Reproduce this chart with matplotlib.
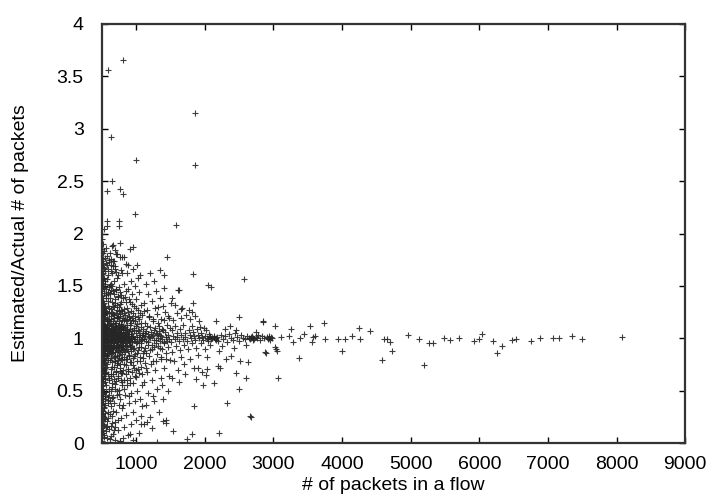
import matplotlib
matplotlib.use("Agg")
import matplotlib.pyplot as plt

# (# of packets, estimated/actual)
small_flows = [
    (502, 0.02), (508, 0.05), (515, 0.10), (503, 0.14), (520, 0.18), (511, 0.22), (530, 0.25), (505, 0.28),
    (518, 0.31), (540, 0.34), (507, 0.37), (525, 0.40), (512, 0.43), (548, 0.45), (503, 0.47), (535, 0.49),
    (516, 0.52), (509, 0.54), (560, 0.55), (522, 0.57), (504, 0.59), (541, 0.61), (513, 0.62), (529, 0.64),
    (506, 0.66), (552, 0.67), (518, 0.69), (537, 0.70), (503, 0.72), (566, 0.73), (511, 0.74), (526, 0.76),
    (545, 0.77), (507, 0.78), (519, 0.80), (534, 0.81), (502, 0.82), (575, 0.83), (514, 0.84), (528, 0.85),
    (549, 0.86), (505, 0.87), (521, 0.88), (538, 0.89), (510, 0.90), (557, 0.91), (503, 0.92), (531, 0.93),
    (516, 0.94), (544, 0.95), (508, 0.96), (523, 0.97), (582, 0.97), (501, 0.98), (536, 0.99), (514, 1.00),
    (553, 1.00), (506, 1.01), (527, 1.02), (569, 1.02), (511, 1.03), (540, 1.04), (503, 1.05), (519, 1.06),
    (558, 1.07), (532, 1.08), (507, 1.09), (546, 1.10), (515, 1.11), (502, 1.12), (573, 1.13), (524, 1.14),
    (509, 1.15), (538, 1.16), (517, 1.18), (504, 1.19), (551, 1.20), (529, 1.22), (512, 1.23), (563, 1.25),
    (506, 1.26), (521, 1.28), (542, 1.30), (503, 1.32), (533, 1.34), (514, 1.36), (555, 1.38), (508, 1.40),
    (526, 1.43), (502, 1.45), (539, 1.48), (517, 1.50), (506, 1.53), (548, 1.55), (523, 1.58), (511, 1.61),
    (503, 1.64), (532, 1.67), (515, 1.71), (507, 1.74), (544, 1.77), (520, 1.81), (504, 1.85), (512, 1.90),
    (508, 1.95), (502, 2.00), (530, 0.08), (555, 0.15), (570, 0.21), (585, 0.30), (598, 0.38), (590, 0.44),
    (604, 0.52), (612, 0.60), (596, 0.66), (588, 0.79), (608, 0.88), (593, 0.94), (615, 1.04), (601, 1.09),
    (589, 1.17), (610, 1.24), (597, 1.31), (584, 1.42), (606, 1.49), (592, 1.60), (578, 1.70), (560, 1.86),
]

mid_flows = [
    (625, 0.04), (660, 0.09), (700, 0.03), (640, 0.16), (690, 0.20), (735, 0.12), (760, 0.02), (650, 0.26),
    (710, 0.30), (780, 0.24), (630, 0.35), (675, 0.38), (745, 0.36), (795, 0.33), (655, 0.43), (720, 0.46),
    (770, 0.42), (635, 0.50), (690, 0.52), (755, 0.51), (790, 0.55), (645, 0.57), (705, 0.59), (730, 0.62),
    (775, 0.60), (628, 0.64), (668, 0.66), (715, 0.68), (760, 0.69), (798, 0.67), (640, 0.71), (685, 0.73),
    (725, 0.74), (768, 0.75), (652, 0.77), (700, 0.78), (742, 0.79), (785, 0.80), (633, 0.81), (678, 0.82),
    (720, 0.83), (758, 0.84), (795, 0.85), (646, 0.86), (690, 0.87), (735, 0.88), (775, 0.89), (627, 0.90),
    (662, 0.91), (708, 0.92), (750, 0.93), (788, 0.93), (640, 0.94), (682, 0.95), (725, 0.96), (765, 0.96),
    (655, 0.97), (698, 0.98), (740, 0.98), (780, 0.99), (630, 0.99), (672, 1.00), (715, 1.00), (755, 1.01),
    (795, 1.01), (645, 1.02), (688, 1.02), (730, 1.03), (770, 1.03), (660, 1.04), (705, 1.05), (748, 1.05),
    (785, 1.06), (635, 1.07), (678, 1.07), (722, 1.08), (762, 1.09), (650, 1.10), (695, 1.11), (738, 1.12),
    (778, 1.12), (628, 1.13), (668, 1.14), (712, 1.15), (752, 1.16), (792, 1.17), (642, 1.18), (685, 1.19),
    (728, 1.20), (768, 1.21), (658, 1.23), (702, 1.24), (745, 1.26), (785, 1.27), (632, 1.28), (675, 1.30),
    (718, 1.32), (760, 1.33), (648, 1.35), (692, 1.37), (735, 1.39), (775, 1.41), (625, 1.43), (665, 1.45),
    (708, 1.47), (750, 1.49), (640, 1.52), (685, 1.55), (728, 1.58), (655, 1.62), (700, 1.66), (632, 1.70),
    (680, 1.74), (720, 1.80), (790, 1.78), (650, 1.88), (760, 1.91), (698, 0.15), (740, 0.22),
]

dense_core = [
    (504, 0.99), (517, 1.07), (523, 0.93), (531, 1.12), (546, 0.88), (551, 1.03), (562, 0.96), (574, 1.18),
    (579, 0.84), (587, 1.01), (593, 1.09), (605, 0.91), (611, 1.14), (619, 0.97), (626, 1.05), (634, 0.86),
    (641, 1.21), (649, 0.99), (657, 1.08), (663, 0.92), (671, 1.16), (679, 0.95), (684, 1.03), (693, 0.83),
    (699, 1.12), (707, 0.98), (713, 1.06), (721, 0.89), (729, 1.19), (736, 1.01), (744, 0.94), (751, 1.10),
    (759, 0.87), (766, 1.04), (773, 0.97), (781, 1.14), (789, 0.91), (796, 1.02), (804, 1.08), (812, 0.95),
    (819, 1.17), (827, 0.89), (834, 1.01), (842, 1.11), (851, 0.93), (858, 1.05), (866, 0.98), (874, 1.13),
    (881, 0.88), (889, 1.02), (897, 0.96), (906, 1.09), (913, 0.92), (922, 1.04), (931, 1.15), (939, 0.97),
    (948, 1.01), (956, 0.90), (965, 1.08), (974, 0.99), (507, 0.64), (513, 1.33), (528, 0.71), (536, 1.27),
    (543, 0.58), (557, 1.41), (566, 0.68), (572, 1.24), (581, 0.75), (595, 1.36), (602, 0.62), (608, 1.29),
    (616, 0.79), (623, 1.38), (637, 0.66), (644, 1.25), (652, 0.73), (666, 1.31), (674, 0.61), (682, 1.22),
    (688, 0.78), (696, 1.34), (703, 0.69), (717, 1.27), (724, 0.76), (732, 1.20), (739, 0.64), (747, 1.30),
    (754, 0.81), (762, 1.23), (770, 0.72), (777, 1.35), (785, 0.67), (792, 1.26), (801, 0.79), (808, 1.19),
    (816, 0.70), (823, 1.28), (831, 0.82), (845, 1.22), (853, 0.74), (861, 1.18), (869, 0.80), (877, 1.25),
    (885, 0.69), (893, 1.21), (902, 0.83), (917, 1.17), (926, 0.77), (943, 1.19), (501, 0.95), (501, 1.08),
    (502, 0.76), (502, 1.21), (503, 0.88), (504, 1.14), (505, 0.69), (505, 1.31), (506, 0.97), (507, 1.04),
    (509, 0.83), (510, 1.17), (512, 0.61), (513, 1.25), (514, 0.92), (516, 1.11), (518, 0.74), (519, 1.38),
    (521, 0.99), (522, 1.02), (525, 0.86), (527, 1.19), (529, 0.67), (532, 1.29), (534, 0.94), (537, 1.07),
    (539, 0.79), (542, 1.23), (544, 1.00), (547, 0.91), (550, 1.13), (553, 0.72), (556, 1.26), (559, 0.97),
    (563, 1.05), (567, 0.81), (571, 1.16), (576, 0.89), (580, 1.09), (585, 0.93), (590, 1.03), (596, 0.85),
    (600, 1.18), (607, 0.96), (613, 1.07), (618, 0.88), (624, 1.15), (631, 0.94), (638, 1.02), (646, 0.99),
    (654, 1.04), (661, 0.95), (669, 1.01), (676, 0.97), (686, 1.00), (694, 1.03), (702, 0.96), (711, 1.01),
    (719, 0.98), (727, 1.03), (735, 0.97), (743, 1.00), (752, 1.02), (761, 0.98), (769, 1.01), (778, 0.99),
    (787, 1.02), (798, 0.97), (807, 1.00), (818, 1.03), (503, 0.31), (506, 0.45), (509, 0.52), (512, 0.38),
    (514, 1.55), (517, 1.62), (521, 0.48), (524, 1.49), (527, 0.33), (533, 1.58), (541, 0.42), (547, 1.52),
    (554, 0.36), (561, 1.47), (568, 0.49), (577, 1.57), (586, 0.41), (594, 1.44), (603, 0.46), (614, 1.51),
    (622, 0.40), (633, 1.46), (643, 0.53), (653, 1.50), (667, 0.44), (681, 1.42), (695, 0.56), (709, 1.46),
    (726, 0.50), (741, 1.40), (757, 0.47), (772, 1.44), (788, 0.58), (806, 1.38), (824, 0.52), (847, 1.35),
    (868, 0.60), (892, 1.37), (915, 0.57), (938, 1.33), (951, 0.74), (962, 1.24), (977, 0.83), (988, 1.16),
    (997, 0.70), (1006, 1.12), (1018, 0.86), (1027, 1.20), (1039, 0.92), (1048, 1.07), (1058, 0.78),
    (1067, 1.15), (1078, 0.95), (1086, 1.03), (1097, 0.81), (1108, 1.09), (1119, 0.99), (1128, 0.91),
    (1137, 1.05), (1149, 0.86), (1161, 1.12), (1173, 0.96), (1186, 1.01), (1197, 0.89), (1213, 1.06),
    (1227, 0.94), (1242, 1.03), (1258, 0.92), (1272, 1.10), (1287, 0.98), (1302, 1.04), (1318, 0.93),
    (1334, 1.07), (1349, 0.97), (1366, 1.02), (1381, 0.90), (1397, 1.08), (1413, 0.95), (1429, 1.01),
    (1446, 0.97),
]

extra_core = [
    (508, 1.01), (515, 0.96), (520, 1.04), (526, 0.91), (533, 1.09), (538, 0.98), (545, 1.06), (550, 0.86),
    (558, 1.11), (565, 0.99), (570, 0.93), (578, 1.05), (583, 1.13), (591, 0.97), (598, 1.02), (603, 0.89),
    (609, 1.10), (617, 1.00), (622, 0.94), (629, 1.08), (636, 0.98), (642, 1.12), (648, 0.90), (655, 1.06),
    (659, 1.00), (665, 0.87), (672, 1.09), (677, 1.02), (683, 0.93), (690, 1.15), (697, 1.00), (704, 0.91),
    (710, 1.10), (716, 1.02), (723, 0.94), (731, 1.07), (738, 0.99), (746, 1.13), (753, 0.92), (760, 1.05),
    (767, 0.99), (775, 1.08), (782, 0.93), (790, 1.11), (797, 1.00), (805, 0.90), (813, 1.06), (821, 0.98),
    (829, 1.10), (838, 0.94), (846, 1.03), (855, 0.99), (863, 1.08), (872, 0.95), (880, 1.04), (890, 0.99),
    (899, 1.07), (909, 0.97), (919, 1.02), (929, 0.93), (510, 0.21), (516, 0.12), (522, 0.26), (531, 0.17),
    (537, 0.06), (545, 0.23), (552, 0.29), (563, 0.11), (575, 0.16), (583, 0.05), (594, 0.24), (607, 0.13),
    (618, 0.28), (632, 0.07), (646, 0.19), (663, 0.31), (680, 0.12), (515, 1.68), (525, 1.76), (535, 1.83),
    (546, 1.64), (558, 1.72), (571, 1.79), (586, 1.66), (602, 1.73), (619, 1.81), (640, 1.76), (665, 1.69),
    (690, 1.84), (712, 1.63), (980, 0.64), (1005, 1.29), (1033, 0.71), (1062, 1.24), (1091, 0.66),
    (1118, 1.26), (1152, 0.72), (1183, 1.20), (1215, 0.75), (1252, 1.18), (1288, 0.78), (1325, 1.15),
    (1362, 0.82), (1402, 1.17), (1441, 0.80), (1470, 1.21), (1015, 0.96), (1044, 1.01), (1073, 0.98),
    (1102, 1.03),
]

large_flows = [
    (810, 0.05), (880, 0.08), (960, 0.03), (1040, 0.10), (830, 0.15), (920, 0.18), (1000, 0.22), (860, 0.27),
    (950, 0.30), (1070, 0.26), (815, 0.36), (895, 0.38), (985, 0.40), (1060, 0.42), (840, 0.46), (930, 0.48),
    (1020, 0.50), (870, 0.55), (960, 0.57), (1090, 0.55), (820, 0.60), (905, 0.62), (1000, 0.63), (850, 0.66),
    (940, 0.68), (1045, 0.67), (885, 0.71), (975, 0.72), (1075, 0.73), (825, 0.75), (915, 0.77), (1010, 0.78),
    (860, 0.80), (950, 0.81), (1055, 0.82), (895, 0.84), (990, 0.85), (1095, 0.86), (835, 0.87), (930, 0.88),
    (1030, 0.89), (870, 0.90), (965, 0.91), (1070, 0.92), (810, 0.93), (905, 0.94), (1000, 0.95), (845, 0.96),
    (945, 0.96), (1050, 0.97), (880, 0.98), (980, 0.99), (1085, 0.99), (825, 1.00), (920, 1.00), (1020, 1.01),
    (860, 1.02), (955, 1.02), (1060, 1.03), (895, 1.04), (995, 1.05), (1095, 1.05), (840, 1.06), (935, 1.07),
    (1035, 1.08), (875, 1.09), (970, 1.10), (1075, 1.11), (815, 1.12), (910, 1.13), (1010, 1.14), (855, 1.16),
    (950, 1.17), (1050, 1.18), (890, 1.20), (990, 1.21), (1090, 1.22), (830, 1.24), (925, 1.26), (1025, 1.27),
    (865, 1.29), (965, 1.31), (1065, 1.32), (905, 1.35), (1000, 1.37), (845, 1.39), (945, 1.42), (1045, 1.44),
    (880, 1.47), (985, 1.50), (820, 1.52), (925, 1.55), (1030, 1.58), (870, 1.62), (960, 1.66), (1015, 1.70),
    (850, 1.45), (900, 0.45), (1080, 0.35),
    (1120, 0.18), (1210, 0.25), (1330, 0.30), (1440, 0.22), (1150, 0.36), (1260, 0.40), (1390, 0.42),
    (1180, 0.48), (1300, 0.52), (1460, 0.50), (1110, 0.58), (1230, 0.60), (1360, 0.62), (1480, 0.64),
    (1165, 0.68), (1280, 0.70), (1410, 0.72), (1135, 0.76), (1245, 0.78), (1370, 0.80), (1490, 0.79),
    (1190, 0.83), (1310, 0.85), (1430, 0.86), (1115, 0.88), (1225, 0.90), (1345, 0.91), (1465, 0.92),
    (1170, 0.94), (1285, 0.95), (1400, 0.96), (1140, 0.97), (1255, 0.98), (1375, 0.99), (1485, 0.99),
    (1200, 1.00), (1320, 1.00), (1440, 1.01), (1125, 1.02), (1235, 1.02), (1355, 1.03), (1470, 1.03),
    (1180, 1.04), (1295, 1.05), (1415, 1.06), (1150, 1.07), (1265, 1.08), (1385, 1.09), (1495, 1.10),
    (1210, 1.11), (1330, 1.12), (1450, 1.13), (1130, 1.15), (1245, 1.16), (1365, 1.18), (1475, 1.19),
    (1190, 1.21), (1305, 1.23), (1425, 1.25), (1160, 1.27), (1275, 1.29), (1395, 1.31), (1115, 1.34),
    (1225, 1.36), (1350, 1.38), (1175, 1.42), (1290, 1.45), (1410, 1.48), (1140, 1.52), (1260, 1.55),
    (1200, 1.62), (1320, 1.30), (1240, 0.45), (1380, 0.55),
]

big_flows = [
    (1520, 0.62), (1610, 0.70), (1720, 0.66), (1850, 0.72), (1960, 0.68), (1550, 0.78), (1660, 0.82),
    (1780, 0.80), (1900, 0.84), (2040, 0.82), (1530, 0.87), (1640, 0.89), (1760, 0.90), (1880, 0.91),
    (2000, 0.90), (1580, 0.93), (1700, 0.94), (1820, 0.95), (1940, 0.95), (2070, 0.94), (1510, 0.96),
    (1620, 0.97), (1740, 0.97), (1860, 0.98), (1980, 0.98), (1560, 0.99), (1680, 0.99), (1800, 1.00),
    (1920, 1.00), (2030, 1.00), (1600, 1.01), (1720, 1.01), (1840, 1.02), (1960, 1.01), (2080, 1.01),
    (1540, 1.02), (1660, 1.03), (1780, 1.03), (1900, 1.03), (2010, 1.02), (1590, 1.05), (1710, 1.05),
    (1830, 1.06), (1950, 1.05), (2060, 1.04), (1525, 1.08), (1645, 1.09), (1765, 1.08), (1885, 1.09),
    (2020, 1.08), (1570, 1.12), (1690, 1.13), (1810, 1.12), (1930, 1.11), (1540, 1.17), (1660, 1.19),
    (1790, 1.18), (1910, 1.16), (1600, 1.24), (1730, 1.22), (1860, 1.21), (1650, 1.28), (1770, 1.27),
    (1560, 1.32), (1700, 0.75), (1620, 0.58), (1520, 1.38), (1990, 1.10), (2050, 0.97), (2090, 0.99),
    (2100, 1.00), (2045, 0.99), (2075, 1.02),
    (2110, 1.00), (2130, 1.01), (2150, 0.99), (2170, 1.00), (2140, 1.02), (2160, 0.98), (2185, 1.01),
    (2200, 0.97), (2230, 1.03), (2260, 0.99), (2290, 1.02), (2320, 0.96), (2350, 1.04), (2380, 1.00),
    (2410, 0.98), (2440, 1.05), (2470, 1.01), (2500, 0.97), (2530, 1.03), (2560, 1.00), (2590, 0.99),
    (2620, 1.02), (2640, 1.00), (2660, 0.99), (2680, 1.01), (2700, 1.00), (2720, 0.99), (2740, 1.01),
    (2760, 1.00), (2690, 1.02), (2710, 0.98), (2670, 1.00), (2780, 1.03), (2810, 0.98), (2840, 1.02),
    (2870, 1.00), (2900, 1.01), (2920, 0.99), (2940, 1.00), (2960, 1.01), (2980, 1.00), (2930, 1.02),
    (2950, 0.98), (2250, 0.93), (2420, 0.91), (2600, 0.94), (2290, 1.09), (2460, 1.08), (2750, 1.06),
    (2210, 0.88), (2370, 1.12),
]

outliers = [
    (596, 3.56), (815, 3.655), (1865, 3.155), (631, 2.92), (995, 2.70), (1860, 2.657), (650, 2.50),
    (577, 2.405), (771, 2.424), (805, 2.376), (980, 2.19), (1585, 2.083), (577, 2.12), (756, 2.12),
    (747, 2.07), (577, 2.07), (530, 2.04), (660, 1.895), (906, 1.85), (960, 1.875), (1455, 1.777),
    (712, 1.80), (771, 1.78), (820, 1.78), (612, 1.75), (664, 1.735), (689, 1.69), (858, 1.705),
    (883, 1.70), (1347, 1.655), (1400, 1.60), (1836, 1.61), (637, 1.64), (785, 1.655), (800, 1.625),
    (1052, 1.60), (737, 1.60), (2577, 1.566), (1630, 1.46), (1612, 1.46), (2050, 1.51), (2090, 1.49),
    (1512, 1.34), (1662, 1.29), (1830, 1.34), (1808, 1.25), (2500, 1.205), (2161, 1.167), (2842, 1.16),
    (2890, 0.86), (2520, 0.78), (2630, 0.77), (2378, 0.83), (2306, 0.80), (2190, 0.737), (2220, 0.72),
    (2462, 0.667), (2597, 0.625), (2136, 0.57), (1976, 0.55), (2016, 0.65), (1880, 0.615), (1904, 0.715),
    (2035, 0.705), (2500, 0.517), (2330, 0.38), (2665, 0.255), (1846, 0.354), (1540, 0.115), (1816, 0.083),
    (1735, 0.035), (2208, 0.096), (1298, 0.012), (1395, 0.21), (1429, 0.19), (1227, 0.147), (1153, 0.204),
    (1066, 0.18), (766, 0.02), (911, 0.083),
]

tail = [
    (2845, 1.158), (3017, 1.12), (3254, 1.085), (3536, 1.117), (3744, 1.148), (3449, 1.04), (3381, 1.00),
    (3284, 0.966), (3221, 1.017), (3116, 1.014), (3575, 1.01), (3600, 1.024), (3565, 0.966), (3750, 0.99),
    (3937, 0.99), (4045, 0.99), (4006, 0.88), (4142, 1.02), (4249, 1.10), (4258, 0.99), (4408, 1.07),
    (4582, 0.79), (4606, 0.99), (4655, 0.99), (4703, 0.966), (4733, 0.88), (4960, 1.03), (5120, 0.99),
    (5193, 0.744), (5274, 0.95), (5329, 0.957), (5488, 1.00), (5575, 0.98), (5710, 1.007), (5924, 0.973),
    (5997, 0.99), (6045, 1.04), (6205, 0.976), (6253, 0.858), (6330, 0.928), (6471, 0.983), (6538, 0.99),
    (6747, 0.97), (6887, 1.007), (7071, 1.007), (7159, 1.007), (7352, 1.017), (7493, 0.99), (8077, 1.01),
    (2882, 0.87), (3042, 0.897), (3051, 0.874), (3017, 0.912), (3072, 0.625), (3371, 0.81), (2680, 0.252),
]

x_ticks = [1000, 2000, 3000, 4000, 5000, 6000, 7000, 8000, 9000]
y_ticks = [0, 0.5, 1, 1.5, 2, 2.5, 3, 3.5, 4]
y_tick_labels = ["0", "0.5", "1", "1.5", "2", "2.5", "3", "3.5", "4"]

plt.rcParams["font.family"] = ["Liberation Sans", "DejaVu Sans"]
plt.rcParams["font.size"] = 14

fig = plt.figure(figsize=(7.2, 5.04), dpi=100)
ax = fig.add_axes([0.1413, 0.121, 0.8105, 0.8314])

points = small_flows + mid_flows + dense_core + extra_core + large_flows + big_flows + outliers + tail
xs = [p[0] for p in points]
ys = [p[1] for p in points]
ax.plot(xs, ys, linestyle="none", marker="+", markersize=5, markeredgewidth=0.8,
        color="#262626", alpha=0.9)

ax.set_xlim(500, 9000)
ax.set_ylim(0, 4)
ax.set_xticks(x_ticks)
ax.set_xticklabels([str(t) for t in x_ticks])
ax.set_yticks(y_ticks)
ax.set_yticklabels(y_tick_labels)
ax.tick_params(axis="both", direction="in", length=4.5, width=1, top=True, right=True, colors="black")
ax.tick_params(axis="y", pad=13)
ax.tick_params(axis="x", pad=9)
for s in ax.spines.values():
    s.set_linewidth(1.6)
    s.set_color("#333333")

ax.set_xlabel("# of packets in a flow", labelpad=3)
ax.set_ylabel("Estimated/Actual # of packets", labelpad=20)

fig.savefig("out.png", dpi=100)
